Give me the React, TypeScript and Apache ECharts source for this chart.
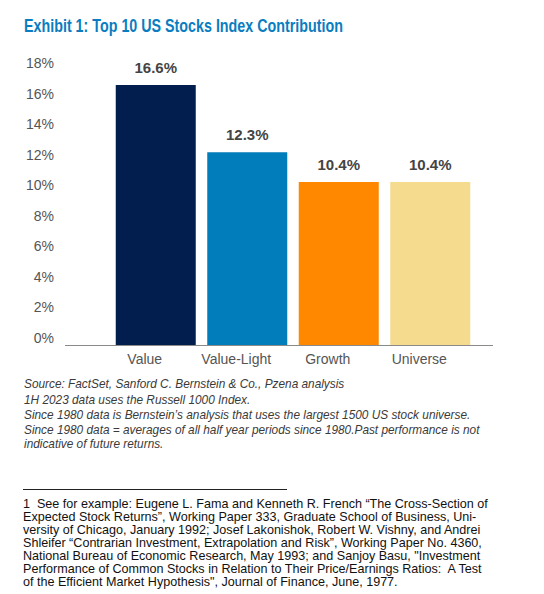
import React, { useEffect, useRef } from "react";
import * as echarts from "echarts";

const categories = ["Value", "Value-Light", "Growth", "Universe"];
const values = [16.6, 12.3, 10.4, 10.4];
const barColors = ["#011E4F", "#007DBA", "#FF8800", "#F4DB8E"];
const yTicks = [0, 2, 4, 6, 8, 10, 12, 14, 16, 18];

const title = "Exhibit 1: Top 10 US Stocks Index Contribution";
const sourceLines = [
  "Source: FactSet, Sanford C. Bernstein & Co., Pzena analysis",
  "1H 2023 data uses the Russell 1000 Index.",
  "Since 1980 data is Bernstein\u2019s analysis that uses the largest 1500 US stock universe.",
  "Since 1980 data = averages of all half year periods since 1980.Past performance is not",
  "indicative of future returns.",
];
const footnoteLines = [
  "1  See for example: Eugene L. Fama and Kenneth R. French \u201CThe Cross-Section of",
  "Expected Stock Returns\u201D, Working Paper 333, Graduate School of Business, Uni-",
  "versity of Chicago, January 1992; Josef Lakonishok, Robert W. Vishny, and Andrei",
  "Shleifer \u201CContrarian Investment, Extrapolation and Risk\u201D, Working Paper No. 4360,",
  "National Bureau of Economic Research, May 1993; and Sanjoy Basu, \"Investment",
  "Performance of Common Stocks in Relation to Their Price/Earnings Ratios:  A Test",
  "of the Efficient Market Hypothesis\", Journal of Finance, June, 1977.",
];

const FONT = "'Liberation Sans', Arial, sans-serif";

function measure(text: string, font: string): number {
  const c = document.createElement("canvas");
  const ctx = c.getContext("2d");
  if (!ctx) return 1;
  ctx.font = font;
  return ctx.measureText(text).width || 1;
}

export default function App() {
  const ref = useRef<HTMLDivElement>(null);
  useEffect(() => {
    if (!ref.current) return;
    const chart = echarts.init(ref.current, null, { renderer: "svg" });

    const titleFont = `bold 18px ${FONT}`;
    const srcFont = `italic 13px ${FONT}`;
    const footFont = `13px ${FONT}`;
    const titleScale = 319 / measure(title, titleFont);
    const srcScale = 447 / measure(sourceLines[2], srcFont);
    const footScale = 465 / measure(footnoteLines[0], footFont);

    const sourceY = [384, 400, 415, 430, 444];
    const footY = [503, 516, 529, 542, 555, 568, 581];
    const graphic: any[] = [
      {
        type: "text",
        x: 24,
        y: 25,
        scaleX: titleScale,
        style: { text: title, fill: "#0A7DC0", font: titleFont, verticalAlign: "middle" },
      },
      {
        type: "line",
        shape: { x1: 65, y1: 345.5, x2: 493, y2: 345.5 },
        style: { stroke: "#8a8a8a", lineWidth: 1 },
      },
      {
        type: "line",
        shape: { x1: 23, y1: 489.5, x2: 287, y2: 489.5 },
        style: { stroke: "#222", lineWidth: 1 },
      },
    ];
    sourceLines.forEach((t, i) =>
      graphic.push({
        type: "text",
        x: 24,
        y: sourceY[i],
        scaleX: srcScale,
        style: { text: t, fill: "#3a3a3a", font: srcFont, verticalAlign: "middle" },
      })
    );
    footnoteLines.forEach((t, i) =>
      graphic.push({
        type: "text",
        x: 23,
        y: footY[i],
        scaleX: footScale,
        style: { text: t, fill: "#111", font: footFont, verticalAlign: "middle" },
      })
    );
    chart.setOption({
      animation: false,
      backgroundColor: "#ffffff",
      grid: { left: 110, right: 68, top: 63, bottom: 249, containLabel: false },
      xAxis: {
        type: "category",
        data: categories,
        axisLine: { show: false },
        axisTick: { show: false },
        axisLabel: {
          interval: 0,
          color: "#555",
          fontFamily: FONT,
          fontSize: 14,
          margin: 7,
          padding: [0, 22, 0, 0],
        },
      },
      yAxis: [
        {
          type: "value",
          min: 0,
          max: 18,
          interval: 2,
          axisLine: { show: false },
          axisTick: { show: false },
          axisLabel: { show: false },
          splitLine: { show: false },
        },
        {
          type: "value",
          position: "left",
          min: -0.458,
          max: 18,
          axisLine: { show: false },
          axisTick: { show: false },
          splitLine: { show: false },
          axisLabel: {
            customValues: yTicks,
            formatter: (v: number) => `${Math.round(v)}%`,
            color: "#555",
            fontFamily: FONT,
            fontSize: 14,
            margin: 56,
          },
        },
      ],
      series: [
        {
          type: "bar",
          yAxisIndex: 0,
          barWidth: 80,
          data: values.map((v, i) => ({ value: v, itemStyle: { color: barColors[i] } })),
          label: {
            show: true,
            position: "top",
            distance: 10,
            formatter: (p: any) => `${p.value.toFixed(1)}%`,
            color: "#444",
            fontWeight: "bold",
            fontFamily: FONT,
            fontSize: 15,
          },
        },
      ],
      graphic,
    });
    return () => chart.dispose();
  }, []);
  return (
    <div
      ref={ref}
      style={{ position: "absolute", left: 0, top: 0, width: 544, height: 594, background: "#fff" }}
    />
  );
}
